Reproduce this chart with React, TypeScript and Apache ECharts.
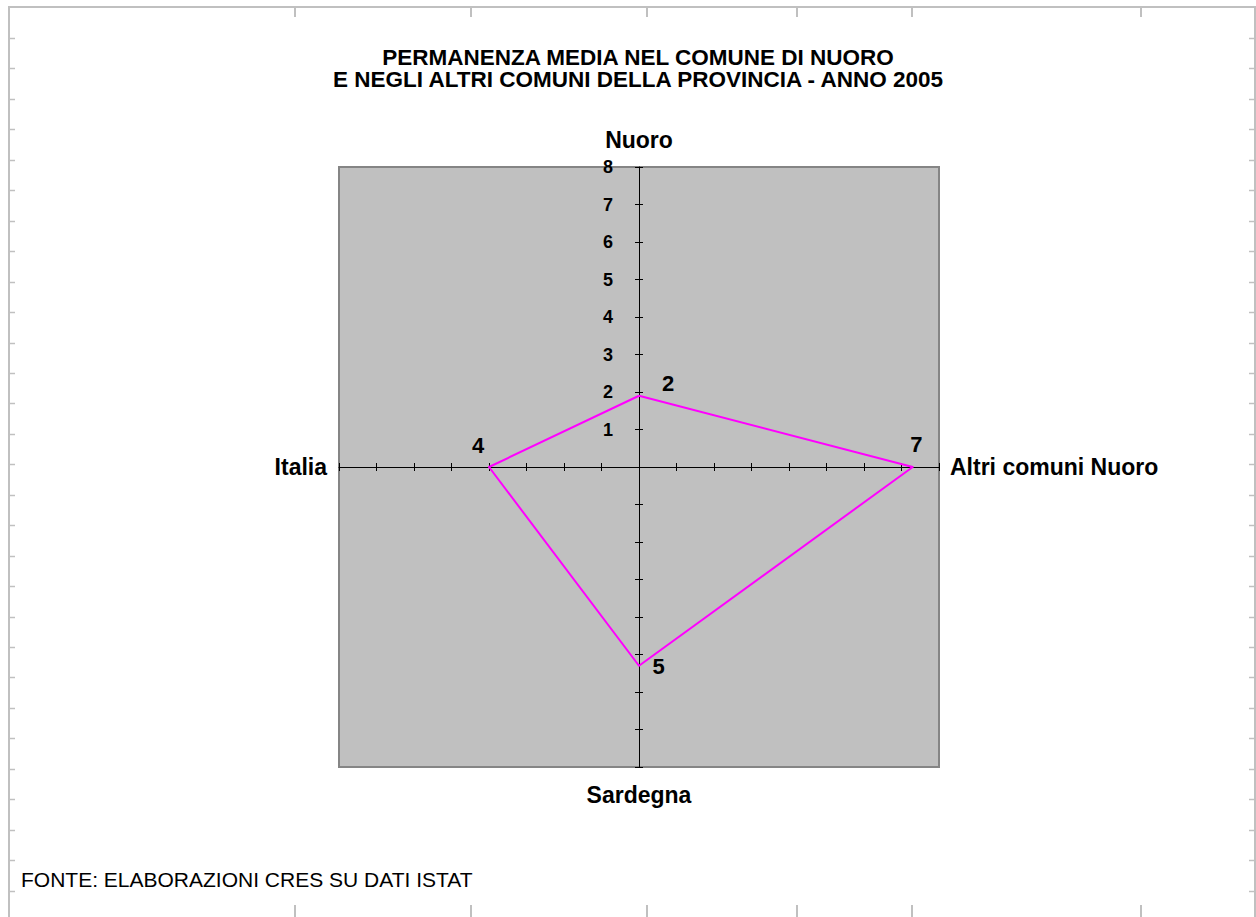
import React, { useEffect, useRef } from 'react';
import * as echarts from 'echarts';

// ---- data ----
// ECharts places radar indicators counter-clockwise from the top,
// so this order gives: top Nuoro, left Italia, bottom Sardegna, right Altri comuni Nuoro
const indicatorNames = ['Nuoro', 'Italia', 'Sardegna', 'Altri comuni Nuoro'];
const indicatorMax = [8, 8, 8, 8];
const seriesValues = [1.9, 4.0, 5.3, 7.3];
const titleLines = [
  'PERMANENZA MEDIA NEL COMUNE DI NUORO',
  'E NEGLI ALTRI COMUNI DELLA PROVINCIA - ANNO 2005',
];
const sourceNote = 'FONTE: ELABORAZIONI CRES SU DATI ISTAT';

// ---- layout / style ----
const FONT = '"Liberation Sans", Arial, Helvetica, sans-serif';
const CX = 639;
const CY = 467;
const R = 300;
const TICK = 4;
const nameGaps = [16, 12, 16, 11];
const labelOffsets = [
  [29, -12],
  [-11, -21.5],
  [19.5, 0.5],
  [3.5, -23],
];
// extra single-axis radars that draw the other half of each crossing tick
// (angle of the axis, centre shift opposite to ECharts' tick side)
const crossTickAxes = [
  { angle: 90, dx: TICK, dy: 0 },
  { angle: 180, dx: 0, dy: -TICK },
  { angle: 270, dx: -TICK, dy: 0 },
  { angle: 0, dx: 0, dy: TICK },
];
const frameTickX = [295, 471, 647, 797, 912, 1141];
const frameColor = '#c0c0c0';

export default function App() {
  const ref = useRef<HTMLDivElement>(null);

  useEffect(() => {
    if (!ref.current) return;
    const chart = echarts.init(ref.current, undefined, { renderer: 'svg' });

    const indicatorMain = indicatorNames.map((n, i) => {
      const ind: any = { name: n, max: indicatorMax[i], min: 0, nameGap: nameGaps[i] };
      if (i !== 0) ind.axisLabel = { show: false };
      return ind;
    });

    const crossRadars = crossTickAxes.map((a, i) => ({
      center: [CX + a.dx, CY + a.dy],
      radius: R,
      startAngle: a.angle,
      shape: 'polygon',
      splitNumber: 8,
      indicator: [{ name: indicatorNames[i], max: indicatorMax[i], min: 0 }],
      axisName: { show: false },
      axisLine: { show: false },
      axisTick: { show: true, length: TICK, lineStyle: { color: '#000', width: 1 } },
      axisLabel: { show: false },
      splitLine: { show: false },
      splitArea: { show: false },
    }));

    const frame: any[] = [];
    frame.push({
      type: 'line',
      shape: { x1: 8, y1: 7, x2: 1256, y2: 7 },
      style: { stroke: frameColor, lineWidth: 2 },
      silent: true,
    });
    frame.push({
      type: 'line',
      shape: { x1: 9, y1: 7, x2: 9, y2: 917 },
      style: { stroke: frameColor, lineWidth: 2 },
      silent: true,
    });
    frame.push({
      type: 'line',
      shape: { x1: 1255, y1: 7, x2: 1255, y2: 917 },
      style: { stroke: frameColor, lineWidth: 2 },
      silent: true,
    });
    for (let k = 0; k <= 28; k++) {
      const y = Math.round(38 + 30.45 * k) + 0.5;
      frame.push({
        type: 'line',
        shape: { x1: 9, y1: y, x2: 15, y2: y },
        style: { stroke: frameColor, lineWidth: 1.5 },
        silent: true,
      });
      frame.push({
        type: 'line',
        shape: { x1: 1249, y1: y, x2: 1255, y2: y },
        style: { stroke: frameColor, lineWidth: 1.5 },
        silent: true,
      });
    }
    frameTickX.forEach((x) => {
      frame.push({
        type: 'line',
        shape: { x1: x, y1: 8, x2: x, y2: 17 },
        style: { stroke: frameColor, lineWidth: 2 },
        silent: true,
      });
      frame.push({
        type: 'line',
        shape: { x1: x, y1: 905, x2: x, y2: 917 },
        style: { stroke: frameColor, lineWidth: 2 },
        silent: true,
      });
    });

    const option: any = {
      animation: false,
      backgroundColor: '#ffffff',
      title: {
        text: titleLines.join('\n'),
        left: 638,
        top: 46,
        padding: 0,
        textAlign: 'center',
        textStyle: {
          fontFamily: FONT,
          fontSize: 22.5,
          fontWeight: 'bold',
          lineHeight: 22.5,
          color: '#000',
        },
      },
      graphic: [
        {
          type: 'rect',
          z: -10,
          silent: true,
          shape: { x: CX - R, y: CY - R, width: 2 * R, height: 2 * R },
          style: { fill: '#c0c0c0', stroke: '#858585', lineWidth: 2 },
        },
        ...frame,
        {
          type: 'text',
          x: 21,
          y: 879,
          silent: true,
          style: {
            text: sourceNote,
            fontFamily: FONT,
            fontSize: 21,
            fill: '#000',
            verticalAlign: 'middle',
            align: 'left',
          },
        },
      ],
      radar: [
        {
          center: [CX, CY],
          radius: R,
          startAngle: 90,
          shape: 'polygon',
          splitNumber: 8,
          indicator: indicatorMain,
          axisName: {
            color: '#000',
            fontFamily: FONT,
            fontSize: 23,
            fontWeight: 'bold',
          },
          axisLine: { show: true, lineStyle: { color: '#000', width: 1 } },
          axisTick: { show: true, length: TICK, lineStyle: { color: '#000', width: 1 } },
          axisLabel: {
            show: true,
            showMinLabel: false,
            margin: 26,
            color: '#000',
            fontFamily: FONT,
            fontSize: 18,
            fontWeight: 'bold',
          },
          splitLine: { show: false },
          splitArea: { show: false },
        },
        ...crossRadars,
      ],
      series: [
        {
          type: 'radar',
          radarIndex: 0,
          symbol: 'circle',
          symbolSize: 4,
          itemStyle: { color: 'rgba(0,0,0,0)', borderWidth: 0 },
          lineStyle: { color: '#ff00ff', width: 2 },
          label: {
            show: true,
            color: '#000',
            fontFamily: FONT,
            fontSize: 22,
            fontWeight: 'bold',
            formatter: (p: any) => String(Math.round(Number(p.value))),
          },
          labelLayout: (p: any) => {
            const px = p.rect.x + p.rect.width / 2;
            const py = p.rect.y + p.rect.height / 2;
            const ang = Math.atan2(CY - py, px - CX);
            const idx = (((Math.round((ang - Math.PI / 2) / (Math.PI / 2)) % 4) + 4) % 4);
            const off = labelOffsets[idx];
            return {
              x: px + off[0],
              y: py + off[1],
              align: 'center',
              verticalAlign: 'middle',
            };
          },
          data: [{ value: seriesValues, name: 'Permanenza media' }],
        },
      ],
    };

    chart.setOption(option);
    return () => chart.dispose();
  }, []);

  return (
    <div
      ref={ref}
      style={{ position: 'absolute', left: 0, top: 0, width: 1256, height: 917 }}
    />
  );
}
